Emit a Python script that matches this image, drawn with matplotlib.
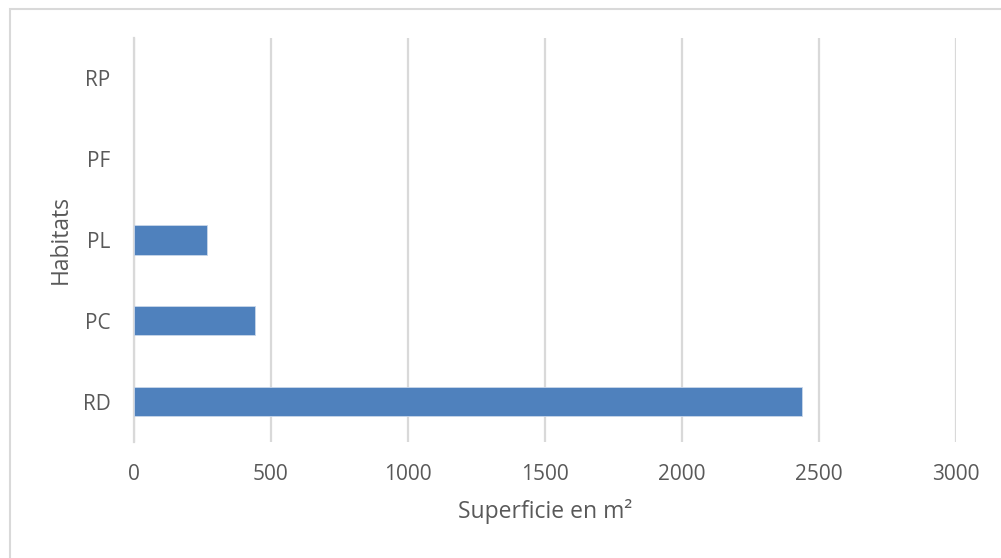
import matplotlib
matplotlib.use("Agg")
import matplotlib.pyplot as plt
from matplotlib.patches import Rectangle

categories = ["RD", "PC", "PL", "PF", "RP"]
values = [2437, 442, 267, 0, 0]
xticks = [0, 500, 1000, 1500, 2000, 2500, 3000]
xlabel = "Superficie en m²"
ylabel = "Habitats"

W, H = 1001, 558
fig = plt.figure(figsize=(W / 100, H / 100), dpi=100)
plt.rcParams['font.family'] = ['Open Sans', 'DejaVu Sans']
text_color = "#595959"
grid_color = "#D9D9D9"

ax = fig.add_axes([134 / W, 1 - 442 / H, (956 - 134) / W, (442 - 38) / H])
ax.barh(range(len(categories)), values, height=0.36, color="#4F81BD",
        edgecolor="#C9D7EA",
        linewidth=[0.6 if v > 0 else 0 for v in values], zorder=3)
ax.set_xlim(0, 3000)
ax.set_ylim(-0.5, len(categories) - 0.5)
ax.set_xticks(xticks)
ax.set_xticklabels([str(t) for t in xticks])
ax.set_yticks(range(len(categories)))
ax.set_yticklabels(categories)
ax.tick_params(axis='both', length=0, labelsize=15, colors=text_color)
ax.tick_params(axis='x', pad=16)
ax.tick_params(axis='y', pad=17)
ax.xaxis.grid(True, color=grid_color, linewidth=1.6, zorder=0)
for s in ["top", "right", "bottom"]:
    ax.spines[s].set_visible(False)
ax.spines["left"].set_color(grid_color)
ax.spines["left"].set_linewidth(1.6)

fig.text(545 / W, 1 - 512 / H, xlabel, ha='center', va='center',
         fontsize=16.5, color=text_color)
fig.text(61 / W, 1 - 239 / H, ylabel, ha='center', va='center',
         rotation=90, fontsize=16.5, color=text_color)

fig.patches.append(Rectangle((9.5 / W, -0.1), 1.2, 1 - 9 / H + 0.1,
                             transform=fig.transFigure, fill=False,
                             edgecolor="#D9D9D9", linewidth=1.5))

fig.savefig("out.png", dpi=100)
